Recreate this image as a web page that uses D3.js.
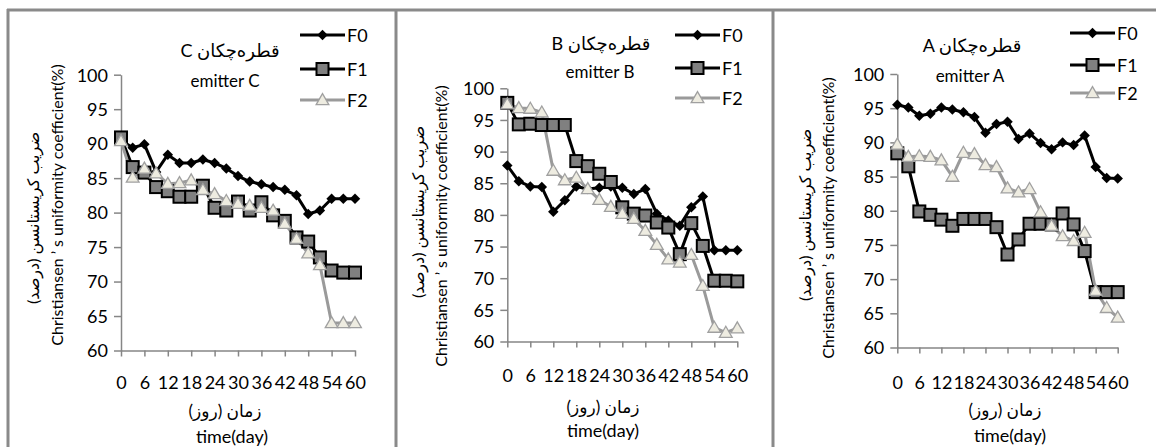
<!DOCTYPE html>
<html><head><meta charset="utf-8">
<script src="https://cdn.jsdelivr.net/npm/d3@7"></script>
<style>
html,body{margin:0;padding:0;background:#fff;}
svg{display:block;}
text{font-family:Lato, "DejaVu Sans", sans-serif;fill:#000;}
</style></head><body>
<svg id="c" width="1156" height="447"></svg>
<script>
// ---- data ----
const days = [0,3,6,9,12,15,18,21,24,27,30,33,36,39,42,45,48,51,54,57,60];
const tickDays = [0,6,12,18,24,30,36,42,48,54,60];
const tickLabels = ["0","6","12","18","24","30","36","42","48","54","60"];
const yTicks = [60,65,70,75,80,85,90,95,100];
const seriesNames = ["F0","F1","F2"];

const emitterC_F0 = [90.5,89.4,89.9,85.9,88.4,87.2,87.2,87.7,87.2,86.4,85.3,84.5,84.1,83.7,83.3,82.5,79.8,80.3,82.0,82.0,82.0];
const emitterC_F1 = [90.9,86.6,85.8,83.7,83.1,82.3,82.3,83.9,80.7,80.3,81.6,80.3,81.5,79.6,78.8,76.4,75.8,73.5,71.6,71.3,71.3];
const emitterC_F2 = [90.4,85.1,86.4,85.7,84.2,84.3,84.7,83.3,82.7,81.7,81.3,81.0,80.7,80.3,78.4,76.2,74.1,72.4,64.0,64.0,64.0];

const emitterB_F0 = [87.8,85.3,84.5,84.4,80.5,82.3,84.5,84.1,84.3,84.5,84.3,83.3,84.1,80.2,79.1,78.3,81.2,82.9,74.4,74.4,74.4];
const emitterB_F1 = [97.7,94.3,94.4,94.2,94.2,94.2,88.5,87.7,86.5,85.2,81.2,80.2,79.9,78.8,78.0,73.8,78.7,75.1,69.6,69.6,69.5];
const emitterB_F2 = [97.5,96.9,96.8,96.2,87.0,85.5,85.9,84.1,82.4,81.3,80.2,79.4,77.5,75.3,73.0,72.5,73.7,68.8,62.2,61.4,62.1];

const emitterA_F0 = [95.5,95.1,93.9,94.2,95.1,94.8,94.4,93.7,91.4,92.7,93.0,90.5,91.3,89.9,89.0,90.0,89.6,91.0,86.4,84.8,84.7];
const emitterA_F1 = [88.4,86.5,79.9,79.4,78.7,77.8,78.8,78.8,78.8,77.6,73.6,75.8,78.1,78.1,78.0,79.6,78.0,74.1,68.1,68.1,68.1];
const emitterA_F2 = [89.7,87.9,88.0,87.9,87.4,85.0,88.5,88.3,86.7,86.4,83.3,82.7,83.2,79.8,77.8,76.3,75.6,76.8,68.3,65.8,64.4];

const titleFa = "قطره‌چکان";
const yLabelFa = "ضریب کریستانسن (درصد)";
const yLabelEn = "Christiansen ’ s uniformity coefficient(%)";
const xLabelFa = "زمان (روز)";
const xLabelEn = "time(day)";

// ---- layout ----
const panels = [
  {letter:"C", data:[emitterC_F0,emitterC_F1,emitterC_F2], x0:121, x1:355, yT:74.7, yB:350.5,
   lx:300, ly:[35,69,100], tx:230, ty:57, ex:225, ey:87, enX:57, enY:205, faX:33, faY:218,
   xlY:389, xfaX:225, xfaY:417, xenX:232, xenY:443},
  {letter:"B", data:[emitterB_F0,emitterB_F1,emitterB_F2], x0:507.3, x1:737.3, yT:88.3, yB:341.5,
   lx:675, ly:[35,68,98], tx:601, ty:50, ex:600, ey:78, enX:441, enY:226, faX:418, faY:212,
   xlY:382, xfaX:603, xfaY:413, xenX:603, xenY:437},
  {letter:"A", data:[emitterA_F0,emitterA_F1,emitterA_F2], x0:897.3, x1:1117.7, yT:74, yB:347.5,
   lx:1070, ly:[33,65,93], tx:972, ty:52, ex:970, ey:82, enX:828, enY:218, faX:805, faY:215,
   xlY:389, xfaX:1005, xfaY:416, xenX:1010, xenY:442}
];

const svg = d3.select("#c");
const border = "#8a8a8a";
// frame
svg.append("line").attr("x1",7).attr("x2",1156).attr("y1",10).attr("y2",10).attr("stroke",border).attr("stroke-width",3);
[8,396,773].forEach(x=>svg.append("line").attr("x1",x).attr("x2",x).attr("y1",9).attr("y2",447).attr("stroke",border).attr("stroke-width",3));

const styles = [
  {stroke:"#000", width:3},
  {stroke:"#000", width:3},
  {stroke:"#9a9a9a", width:3}
];
function drawMarker(g, k, cx, cy){
  if(k===0){
    g.append("path").attr("d", d3.symbol(d3.symbolSquare, 55)())
     .attr("transform",`translate(${cx},${cy}) rotate(45)`).attr("fill","#000");
  } else if(k===1){
    g.append("rect").attr("x",cx-6).attr("y",cy-6).attr("width",12).attr("height",12)
     .attr("fill","#808080").attr("stroke","#000").attr("stroke-width",2);
  } else {
    g.append("path").attr("d", d3.symbol(d3.symbolTriangle, 70)())
     .attr("transform",`translate(${cx},${cy+1})`).attr("fill","#eeece1").attr("stroke","#a0a0a0").attr("stroke-width",1.3);
  }
}

panels.forEach(p=>{
  const g = svg.append("g");
  const x = d3.scalePoint(days, [p.x0, p.x1]);
  const y = d3.scaleLinear([60,100],[p.yB,p.yT]);

  // y axis
  const ya = g.append("g").attr("transform",`translate(${p.x0},0)`)
    .call(d3.axisLeft(y).tickValues(yTicks).tickSize(7).tickSizeOuter(0).tickPadding(6));
  ya.select(".domain").attr("stroke","#868686").attr("stroke-width",1.5);
  ya.selectAll(".tick line").attr("stroke","#868686").attr("stroke-width",1.5);
  ya.selectAll(".tick text").attr("font-size",18).attr("font-family","Lato").attr("fill","#000").attr("dy","0.35em");

  // x axis
  const xa = g.append("g").attr("transform",`translate(0,${p.yB})`)
    .call(d3.axisBottom(x).tickValues(tickDays).tickFormat((d,i)=>tickLabels[i]).tickSize(6).tickSizeOuter(0).tickPadding(0));
  xa.select(".domain").attr("stroke","#868686").attr("stroke-width",1.5);
  xa.selectAll(".tick line").attr("stroke","#868686").attr("stroke-width",1.5);
  xa.selectAll(".tick text").attr("font-size",18).attr("font-family","Lato").attr("fill","#000")
    .attr("y", p.xlY - p.yB).attr("dy",0);

  // series
  p.data.forEach((vals,k)=>{
    const line = d3.line().x((d,i)=>x(days[i])).y(d=>y(d));
    g.append("path").datum(vals).attr("d",line).attr("fill","none")
      .attr("stroke",styles[k].stroke).attr("stroke-width",styles[k].width).attr("stroke-linejoin","round");
  });
  p.data.forEach((vals,k)=>{
    const mg = g.append("g");
    vals.forEach((v,i)=>drawMarker(mg,k,x(days[i]),y(v)));
  });

  // legend
  seriesNames.forEach((n,k)=>{
    const ly = p.ly[k];
    g.append("line").attr("x1",p.lx).attr("x2",p.lx+45).attr("y1",ly).attr("y2",ly)
      .attr("stroke",styles[k].stroke).attr("stroke-width",styles[k].width);
    drawMarker(g,k,p.lx+22.5,ly);
    g.append("text").attr("x",p.lx+47).attr("y",ly+6.5).attr("font-size",18).text(n);
  });

  // titles
  g.append("text").attr("x",p.tx).attr("y",p.ty).attr("text-anchor","middle").attr("font-size",18)
    .attr("font-family","DejaVu Sans").text(p.letter+" "+titleFa);
  g.append("text").attr("x",p.ex).attr("y",p.ey).attr("text-anchor","middle").attr("font-size",17).text("emitter "+p.letter);

  // y labels
  g.append("text").attr("transform",`translate(${p.enX},${p.enY}) rotate(-90)`).attr("text-anchor","middle")
    .attr("dy","0.35em").attr("font-size",16).text(yLabelEn);
  g.append("text").attr("transform",`translate(${p.faX},${p.faY}) rotate(-90)`).attr("text-anchor","middle")
    .attr("dy","0.35em").attr("font-size",16).attr("font-family","DejaVu Sans").text(yLabelFa);

  // x labels
  g.append("text").attr("x",p.xfaX).attr("y",p.xfaY).attr("text-anchor","middle").attr("font-size",17)
    .attr("font-family","DejaVu Sans").text(xLabelFa);
  g.append("text").attr("x",p.xenX).attr("y",p.xenY).attr("text-anchor","middle").attr("font-size",18).text(xLabelEn);
});
</script>
</body></html>
